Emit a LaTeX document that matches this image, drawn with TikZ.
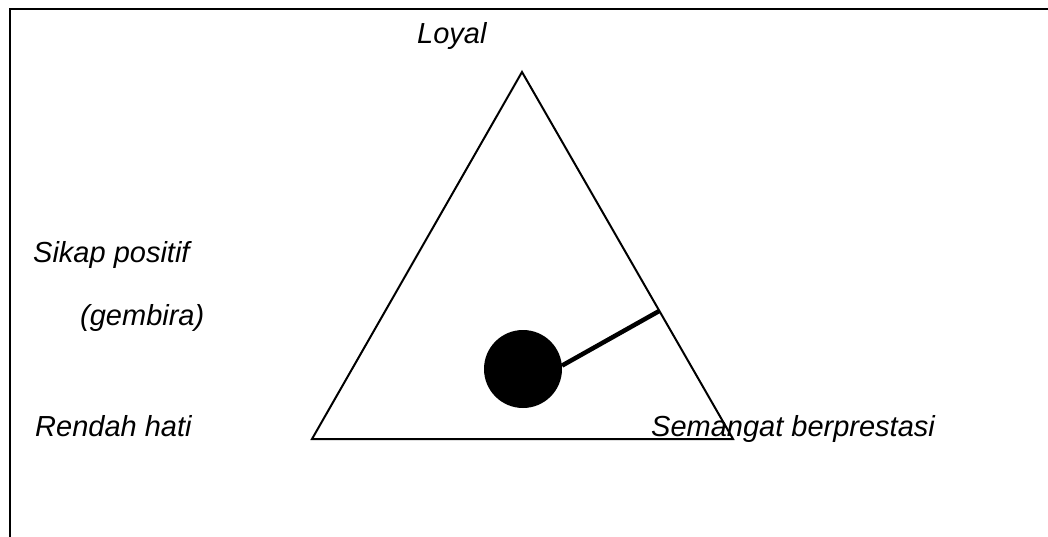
\documentclass[tikz,border=0pt]{standalone}
\usepackage{fontspec}
\setmainfont{Liberation Sans}
\usetikzlibrary{positioning,calc}

\begin{document}
\begin{tikzpicture}[x=1pt, y=-1pt, font=\fontsize{29}{34}\selectfont\itshape,
  lbl/.style={anchor=base west, inner sep=0pt},
  edge/.style={line width=2pt, line join=miter},
  dotnode/.style={circle, fill=black, minimum size=78pt, inner sep=0pt},
  link/.style={line width=4.5pt}]
\useasboundingbox (0,0) rectangle (1048,537);
\draw[line width=2.5pt] (10,537) -- (10,9) -- (1048,9);
\coordinate (top) at (522,72); \coordinate (bl) at (312,439); \coordinate (br) at (733,439);
\draw[edge] (top) -- (bl) -- (br) -- cycle;
\node[dotnode] (dot) at (523,369) {};
\coordinate (hit) at ($(top)!0.651!(br)$);
\draw[link] (dot.5) -- (hit);
\node[lbl] (loyal) at (417,44) {Loyal};
\node[lbl] (sikap) at (33,262) {Sikap positif};
\node[lbl] (gembira) at (80,325) {(gembira)};
\node[lbl] (rendah) at (35,436) {Rendah hati};
\node[lbl] (semangat) at (651,436) {Semangat berprestasi};
\end{tikzpicture}
\end{document}
